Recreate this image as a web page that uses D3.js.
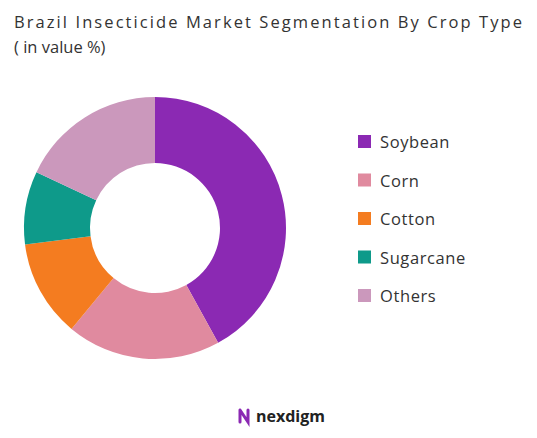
<!DOCTYPE html>
<html><head><meta charset="utf-8">
<script src="https://cdn.jsdelivr.net/npm/d3@7/dist/d3.min.js"></script>
<style>body{margin:0;background:#fff;}svg{display:block;font-family:"Open Sans",sans-serif;}</style>
</head><body>
<svg id="c" width="537" height="438"></svg>
<script>
const categories = ["Soybean","Corn","Cotton","Sugarcane","Others"];
const values = [42,19,12,9,18];
const colors = ["#8B29B3","#E08A9F","#F47C20","#0E9A8A","#CB98BC"];

const svg = d3.select("#c");
svg.append("text").attr("x",14).attr("y",28).attr("font-size",16.5).attr("fill","#333").attr("textLength",508).text("Brazil Insecticide Market Segmentation By Crop Type");
svg.append("text").attr("x",14).attr("y",53).attr("font-size",16.5).attr("fill","#333").text("( in value %)");

const pie = d3.pie().sort(null).value(d=>d)(values);
const arc = d3.arc().innerRadius(65).outerRadius(131);
const g = svg.append("g").attr("transform","translate(155,228)");
g.selectAll("path").data(pie).join("path").attr("d",arc).attr("fill",(d,i)=>colors[i]);

const lg = svg.append("g").attr("transform","translate(358,142)");
categories.forEach((c,i)=>{
  const y = i*38.5;
  lg.append("rect").attr("x",0).attr("y",y-7).attr("width",13).attr("height",13).attr("fill",colors[i]);
  lg.append("text").attr("x",22).attr("y",y+6).attr("font-size",16.5).attr("fill","#333").attr("letter-spacing","0.6").text(c);
});

const lo = svg.append("g").attr("transform","translate(240,418)");
lo.append("path").attr("d","M0,-8 L0,4 M0,-8 L8,4 L8,-8").attr("stroke","#8B29B3").attr("stroke-width",3).attr("fill","none").attr("stroke-linecap","round");
lo.append("text").attr("x",16).attr("y",4).attr("font-size",16).attr("font-weight","bold").attr("fill","#222").text("nexdigm");
</script>
</body></html>
